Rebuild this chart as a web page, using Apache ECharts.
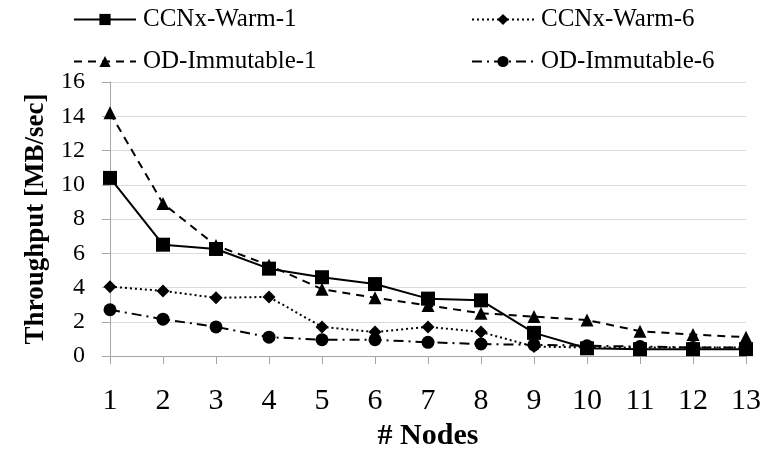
<!DOCTYPE html>
<html>
<head>
<meta charset="utf-8">
<script src="https://cdn.jsdelivr.net/npm/echarts@6/dist/echarts.min.js"></script>
<style>
	html, body { margin: 0; padding: 0; background: #fff; }
	#chart { width: 772px; height: 451px; }
</style>
</head>
<body>
<div id="chart"></div>
<script>
// 横坐标：节点数
const nodes = ['1', '2', '3', '4', '5', '6', '7', '8', '9', '10', '11', '12', '13'];
// 各系列吞吐量 (MB/sec)
const ccnxWarm1 = [10.4, 6.5, 6.25, 5.1, 4.6, 4.2, 3.35, 3.25, 1.35, 0.45, 0.4, 0.4, 0.4];
const ccnxWarm6 = [4.05, 3.8, 3.4, 3.45, 1.7, 1.4, 1.7, 1.4, 0.55, 0.5, 0.5, 0.5, 0.5];
const odImmutable1 = [14.2, 8.9, 6.45, 5.3, 3.9, 3.4, 2.95, 2.5, 2.3, 2.1, 1.45, 1.25, 1.1];
const odImmutable6 = [2.7, 2.15, 1.7, 1.1, 0.95, 0.95, 0.8, 0.7, 0.65, 0.6, 0.55, 0.5, 0.5];

const font = 'Liberation Serif';

// 每个图例单独定位（两行两列）
function legendAt(name, left, top) {
	return {
		data: [name],
		left: left,
		top: top,
		padding: 0,
		itemWidth: 62,
		itemHeight: 14,
		itemGap: 0,
		textStyle: { fontFamily: font, fontSize: 25, color: '#000', padding: [0, 0, 0, 2] },
	};
}

const myChart = echarts.init(document.getElementById('chart'));
myChart.setOption({
	animation: false,
	legend: [
		legendAt('CCNx-Warm-1', 73, 7),
		legendAt('CCNx-Warm-6', 471, 7),
		legendAt('OD-Immutable-1', 73, 49),
		legendAt('OD-Immutable-6', 471, 49),
	],
	grid: { left: 110, right: 26, top: 82, bottom: 95, outerBoundsMode: 'none', containLabel: false },
	xAxis: {
		type: 'category',
		data: nodes,
		boundaryGap: false,
		name: '# Nodes',
		nameLocation: 'middle',
		nameGap: 64,
		nameTextStyle: { fontFamily: font, fontSize: 30, fontWeight: 'bold', color: '#000' },
		axisLine: { lineStyle: { color: '#a6a6a6', width: 1 } },
		axisTick: { alignWithLabel: true, length: 8, lineStyle: { color: '#a6a6a6' } },
		axisLabel: { fontFamily: font, fontSize: 30, color: '#000', margin: 30 },
	},
	yAxis: {
		type: 'value',
		min: 0,
		max: 16,
		interval: 2,
		name: 'Throughput [MB/sec]',
		nameLocation: 'middle',
		nameGap: 60,
		nameTextStyle: { fontFamily: font, fontSize: 27, fontWeight: 'bold', color: '#000' },
		axisLine: { show: true, lineStyle: { color: '#a6a6a6', width: 1 } },
		axisTick: { show: true, length: 8, lineStyle: { color: '#a6a6a6' } },
		axisLabel: { fontFamily: font, fontSize: 24, color: '#000', margin: 25 },
		splitLine: { lineStyle: { color: '#dcdcdc', width: 1 } },
	},
	series: [
		{
			name: 'CCNx-Warm-1',
			type: 'line',
			data: ccnxWarm1,
			symbol: 'rect',
			symbolSize: 14,
			itemStyle: { color: '#000' },
			lineStyle: { color: '#000', width: 2, type: 'solid' },
		},
		{
			name: 'CCNx-Warm-6',
			type: 'line',
			data: ccnxWarm6,
			symbol: 'diamond',
			symbolSize: 13,
			itemStyle: { color: '#000' },
			lineStyle: { color: '#000', width: 2, type: [2, 3] },
		},
		{
			name: 'OD-Immutable-1',
			type: 'line',
			data: odImmutable1,
			symbol: 'triangle',
			symbolSize: 13,
			itemStyle: { color: '#000' },
			lineStyle: { color: '#000', width: 2, type: [8, 6] },
		},
		{
			name: 'OD-Immutable-6',
			type: 'line',
			data: odImmutable6,
			symbol: 'circle',
			symbolSize: 13,
			itemStyle: { color: '#000' },
			lineStyle: { color: '#000', width: 2, type: [10, 5, 2, 5] },
		},
	],
});
</script>
</body>
</html>
